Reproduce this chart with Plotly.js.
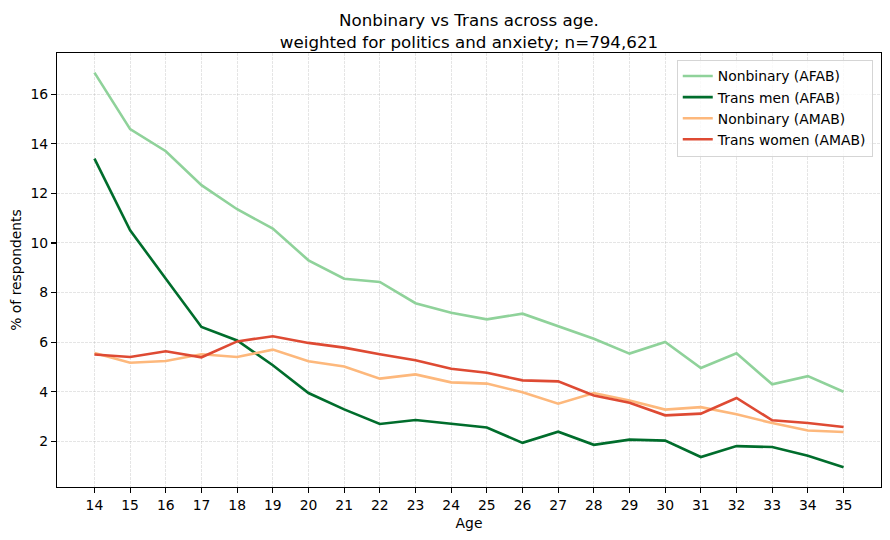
<!DOCTYPE html>
<html>
<head>
<meta charset="utf-8">
<script src="https://cdn.plot.ly/plotly-3.0.1.min.js"></script>
<style>html,body{margin:0;padding:0;background:#fff;}#chart{width:890px;height:540px;}</style>
</head>
<body>
<div id="chart"></div>
<script>
const ages = [14,15,16,17,18,19,20,21,22,23,24,25,26,27,28,29,30,31,32,33,34,35];
const nonbinaryAFAB = [16.87,14.59,13.70,12.33,11.36,10.58,9.30,8.56,8.43,7.57,7.19,6.92,7.15,6.64,6.14,5.54,6.01,4.96,5.55,4.30,4.63,4.00];
const transMenAFAB = [13.40,10.51,8.56,6.61,6.07,5.07,3.95,3.29,2.70,2.86,2.71,2.56,1.94,2.39,1.86,2.07,2.03,1.37,1.81,1.77,1.42,0.96];
const nonbinaryAMAB = [5.56,5.17,5.24,5.51,5.40,5.70,5.23,5.02,4.53,4.70,4.38,4.33,3.98,3.52,3.95,3.65,3.28,3.38,3.09,2.74,2.44,2.38];
const transWomenAMAB = [5.50,5.40,5.63,5.39,6.03,6.24,5.97,5.78,5.51,5.27,4.93,4.77,4.46,4.42,3.85,3.56,3.05,3.12,3.75,2.85,2.74,2.58];
const seriesNames = ['Nonbinary (AFAB)','Trans men (AFAB)','Nonbinary (AMAB)','Trans women (AMAB)'];
const yTicks = [2,4,6,8,10,12,14,16];

const colors = ['#8fd29a','#006d2c','#fdb87c','#de4a33'];
const allSeries = [nonbinaryAFAB, transMenAFAB, nonbinaryAMAB, transWomenAMAB];
const FONT = 'DejaVu Sans, sans-serif';

const traces = allSeries.map((s,i)=>({
  x: ages, y: s, type:'scatter', mode:'lines', name: seriesNames[i],
  line:{color:colors[i], width:2.6}
}));

const axisCommon = {
  showline:true, linecolor:'#000', linewidth:1.1, mirror:true,
  ticks:'outside', ticklen:5, tickwidth:1.1, tickcolor:'#000',
  showgrid:true, gridcolor:'rgba(176,176,176,0.55)', gridwidth:0.6, griddash:'2.5px,1.5px',
  zeroline:false, tickfont:{family:FONT, size:13.9, color:'#000'}
};

const layout = {
  width:890, height:540,
  margin:{l:57, r:9, t:53, b:53},
  paper_bgcolor:'#fff', plot_bgcolor:'#fff',
  font:{family:FONT, color:'#000'},
  title:{text:'Nonbinary vs Trans across age.<br>weighted for politics and anxiety; n=794,621',
    font:{family:FONT, size:16.7, color:'#000'},
    x:0.5, xref:'paper', xanchor:'center', y:0.952, yref:'container', yanchor:'top'},
  xaxis: Object.assign({}, axisCommon, {
    range:[12.95,36.05], tickmode:'array', tickvals:ages, ticktext:ages.map(String),
    title:{text:'Age', font:{family:FONT, size:13.9, color:'#000'}, standoff:6}
  }),
  yaxis: Object.assign({}, axisCommon, {
    range:[0.16,17.66], tickmode:'array', tickvals:yTicks, ticktext:yTicks.map(String),
    title:{text:'% of respondents', font:{family:FONT, size:13.9, color:'#000'}, standoff:5}
  }),
  legend:{x:0.99, xanchor:'right', y:0.985, yanchor:'top',
    bgcolor:'rgba(255,255,255,0.8)', bordercolor:'#d5d5d5', borderwidth:1,
    font:{family:FONT, size:13.9, color:'#000'}},
  showlegend:true
};

Plotly.newPlot('chart', traces, layout, {displayModeBar:false, staticPlot:true});
</script>
</body>
</html>
